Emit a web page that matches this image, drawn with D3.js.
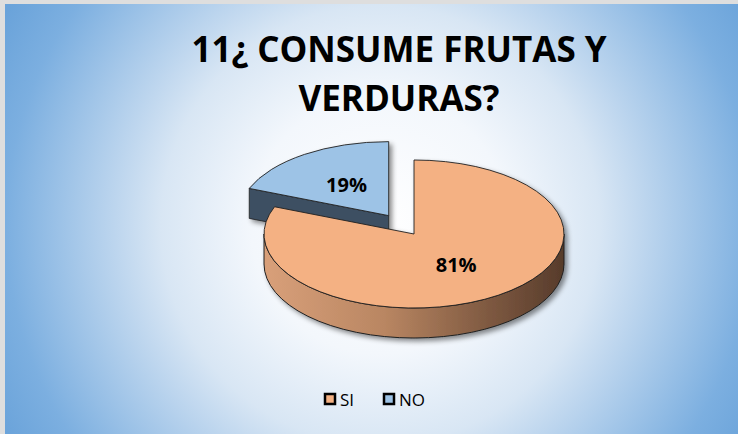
<!DOCTYPE html>
<html>
<head>
<meta charset="utf-8">
<script src="https://cdn.jsdelivr.net/npm/d3@7"></script>
<style>
  html, body { margin: 0; padding: 0; background: #fff; }
  svg { display: block; }
  text { font-family: "Open Sans", "DejaVu Sans", sans-serif; }
</style>
</head>
<body>
<div id="chart"></div>
<script>
// data
let categories = ["SI", "NO"];
let values = [81, 19];
let labels = ["81%", "19%"];
let titleLines = ["11\u00bf CONSUME FRUTAS Y", "VERDURAS?"];
let topColors = ["#f4b183", "#9dc3e6"];
let explode = [0, 0.3];

(function(){
  let WIDTH = 738, HEIGHT = 434;
  let svg = d3.select("#chart").append("svg")
      .attr("width", WIDTH)
      .attr("height", HEIGHT);

  let defs = svg.append("defs");

  // background, radial blue fade
  let bg = defs.append("radialGradient")
      .attr("id", "bg")
      .attr("gradientUnits", "userSpaceOnUse")
      .attr("cx", 380).attr("cy", 225).attr("r", 430);
  [[0, "#ffffff"], [0.3, "#f3f7fc"], [0.51, "#d8e6f4"], [0.6, "#c1d8ef"],
   [0.87, "#7cafe0"], [1, "#6aa3da"]].forEach(([o, c]) =>
    bg.append("stop").attr("offset", o).attr("stop-color", c));

  // side wall shading of the big slice
  let wall = defs.append("linearGradient")
      .attr("id", "wall")
      .attr("gradientUnits", "userSpaceOnUse")
      .attr("x1", 263).attr("x2", 567).attr("y1", 0).attr("y2", 0);
  [[0, "#d9a07a"], [0.4, "#b98662"], [0.75, "#7d5840"], [1, "#553a2a"]].forEach(([o, c]) =>
    wall.append("stop").attr("offset", o).attr("stop-color", c));

  let shadow = defs.append("filter").attr("id", "shadow")
      .attr("x", "-10%").attr("y", "-10%").attr("width", "130%").attr("height", "130%");
  shadow.append("feDropShadow")
      .attr("dx", 3).attr("dy", 3).attr("stdDeviation", 2.5)
      .attr("flood-color", "#000").attr("flood-opacity", 0.45);

  // frame + plot area
  svg.append("rect").attr("width", WIDTH).attr("height", HEIGHT).attr("fill", "#dedede");
  svg.append("rect").attr("x", 5).attr("y", 4).attr("width", WIDTH - 5).attr("height", HEIGHT - 4)
      .attr("fill", "url(#bg)");

  // title
  let title = svg.append("text")
      .attr("text-anchor", "middle")
      .attr("font-size", 35)
      .attr("font-weight", "bold")
      .attr("fill", "#000");
  titleLines.forEach((t, i) => {
    title.append("tspan").attr("x", 399).attr("y", 62 + i * 49).text(t);
  });

  // 3d pie geometry
  let cx = 414, cy = 234, rx = 150, ry = 74, depth = 30;
  let pie = d3.pie().sort(null).value(d => d)(values);

  let pt = (a, dx, dy, k = 1) => [cx + dx + rx * k * Math.sin(a), cy + dy - ry * k * Math.cos(a)];
  let off = (d, i) => {
    let m = (d.startAngle + d.endAngle) / 2;
    return [rx * explode[i] * Math.sin(m), -ry * explode[i] * Math.cos(m)];
  };

  let g = svg.append("g").attr("filter", "url(#shadow)");
  let stroke = "#1f1f1f";

  // draw back slice (NO) first, then the front one
  let order = [1, 0];
  order.forEach(i => {
    let d = pie[i];
    let [dx, dy] = off(d, i);
    let a0 = d.startAngle, a1 = d.endAngle;
    let ap = [cx + dx, cy + dy];

    // start cut face is visible when it faces the viewer
    let fa = a0 - Math.PI / 2;
    if (Math.cos(fa) < 0 && a1 - a0 < 2 * Math.PI) {
      let p = pt(a0, dx, dy);
      let path = d3.path();
      path.moveTo(ap[0], ap[1]);
      path.lineTo(p[0], p[1]);
      path.lineTo(p[0], p[1] + depth);
      path.lineTo(ap[0], ap[1] + depth);
      path.closePath();
      g.append("path").attr("d", path.toString())
        .attr("fill", i == 1 ? "#3d4f62" : "#c58b64")
        .attr("stroke", stroke).attr("stroke-width", 0.8).attr("stroke-linejoin", "round");
    }

    // front wall
    let s = Math.max(a0, Math.PI / 2), e = Math.min(a1, 3 * Math.PI / 2);
    if (e > s) {
      let p1 = pt(s, dx, dy), p2 = pt(e, dx, dy);
      let dpath = "M" + p1 + "A" + rx + "," + ry + " 0 0 1 " + p2 +
        "L" + p2[0] + "," + (p2[1] + depth) +
        "A" + rx + "," + ry + " 0 0 0 " + p1[0] + "," + (p1[1] + depth) + "Z";
      g.append("path").attr("d", dpath)
        .attr("fill", i == 0 ? "url(#wall)" : "#3d4f62")
        .attr("stroke", stroke).attr("stroke-width", 1);
    }

    // top face
    let q0 = pt(a0, dx, dy), q1 = pt(a1, dx, dy);
    let large = (a1 - a0) > Math.PI ? 1 : 0;
    let top = "M" + ap + "L" + q0 + "A" + rx + "," + ry + " 0 " + large + " 1 " + q1 + "Z";
    g.append("path").attr("d", top)
      .attr("fill", topColors[i])
      .attr("stroke", stroke).attr("stroke-width", 0.9).attr("stroke-linejoin", "round");
  });

  // data labels
  pie.forEach((d, i) => {
    let [dx, dy] = off(d, i);
    let m = (d.startAngle + d.endAngle) / 2;
    let p = pt(m, dx, dy, 0.5);
    svg.append("text")
      .attr("x", p[0]).attr("y", p[1])
      .attr("dy", "0.36em")
      .attr("text-anchor", "middle")
      .attr("font-size", 20)
      .attr("font-weight", "bold")
      .attr("fill", "#000")
      .text(labels[i]);
  });

  // legend
  let legendX = [325, 384];
  let leg = svg.append("g");
  categories.forEach((c, i) => {
    leg.append("rect")
      .attr("x", legendX[i]).attr("y", 394)
      .attr("width", 10).attr("height", 10)
      .attr("fill", topColors[i])
      .attr("stroke", "#000").attr("stroke-width", 2.5);
    leg.append("text")
      .attr("x", legendX[i] + 15).attr("y", 405.5)
      .attr("font-size", 17)
      .attr("fill", "#000")
      .text(c);
  });
})();
</script>
</body>
</html>
